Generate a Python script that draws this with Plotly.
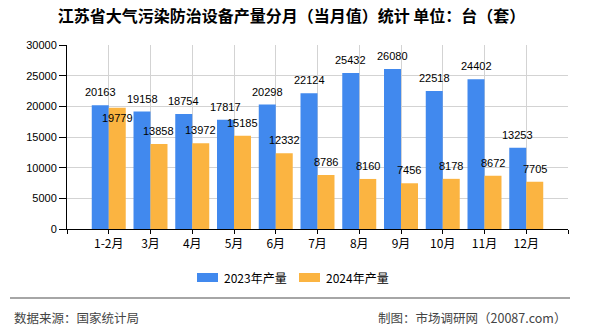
import plotly.graph_objects as go

categories = ["1-2月", "3月", "4月", "5月", "6月", "7月", "8月", "9月", "10月", "11月", "12月"]
values_2023 = [20163, 19158, 18754, 17817, 20298, 22124, 25432, 26080, 22518, 24402, 13253]
values_2024 = [19779, 13858, 13972, 15185, 12332, 8786, 8160, 7456, 8178, 8672, 7705]
series_names = ["2023年产量", "2024年产量"]
y_ticks = [0, 5000, 10000, 15000, 20000, 25000, 30000]

title_text = "江苏省大气污染防治设备产量分月（当月值）统计 单位：台（套）"
source_text = "数据来源：国家统计局"
credit_text = "制图：市场调研网（20087.com）"

W, H = 590, 330
ML, MR, MT, MB = 67, 22, 45, 101
PW, PH = W - ML - MR, H - MT - MB

def px_x(px):
    return (px - ML) / PW

def px_y(py):
    return (H - MB - py) / PH

BLUE = "#4189EE"
ORANGE = "#FBB441"
NUM_FONT = dict(family="Liberation Sans, Arial, sans-serif", size=11, color="#000")
CJK = "Noto Sans CJK SC, sans-serif"

idx = list(range(len(categories)))
fig = go.Figure()
fig.add_bar(x=idx, y=values_2023, name=series_names[0], marker=dict(color=BLUE, line=dict(width=0)))
fig.add_bar(x=idx, y=values_2024, name=series_names[1], marker=dict(color=ORANGE, line=dict(width=0)))

# value labels
bar_half = PW / 12 * (1 - 0.186) / 4
label_dy = {(1, 0): -10}
for s, vals in enumerate([values_2023, values_2024]):
    for i, v in enumerate(vals):
        fig.add_annotation(x=i, y=v, text=str(v), showarrow=False,
                           xshift=(-bar_half if s == 0 else bar_half),
                           yshift=label_dy.get((s, i), 13), yanchor="middle",
                           font=NUM_FONT)

fig.update_layout(
    width=W, height=H,
    margin=dict(l=ML, r=MR, t=MT, b=MB),
    paper_bgcolor="white", plot_bgcolor="white",
    barmode="group", bargap=0.186, bargroupgap=0,
    title=dict(text=title_text, x=0.494, xanchor="center", xref="container",
               y=1 - 16 / H, yanchor="middle", yref="container",
               font=dict(family=CJK, size=16, color="#000", weight="bold")),
    showlegend=False,
    xaxis=dict(range=[-1, len(categories)], tickmode="array",
               tickvals=[-1] + idx + [len(categories)],
               ticktext=[""] + categories + [""],
               showgrid=True, gridcolor="#d3d3d3", gridwidth=1,
               showline=True, linecolor="#000", linewidth=1,
               ticks="outside", ticklen=4, tickcolor="#000",
               tickfont=dict(family=CJK, size=12, color="#000"), zeroline=False),
    yaxis=dict(range=[0, 30000], tickmode="array", tickvals=y_ticks,
               ticktext=[str(t) for t in y_ticks],
               showgrid=True, gridcolor="#d3d3d3", gridwidth=1,
               showline=True, linecolor="#000", linewidth=1,
               ticks="outside", ticklen=7, tickcolor="#000",
               tickfont=NUM_FONT, zeroline=False),
)

# custom legend
legend_items = [(series_names[0], BLUE, 197), (series_names[1], ORANGE, 299)]
for name, color, x0 in legend_items:
    fig.add_shape(type="rect", xref="paper", yref="paper",
                  x0=px_x(x0), x1=px_x(x0 + 21), y0=px_y(282), y1=px_y(273),
                  fillcolor=color, line=dict(width=0))
    fig.add_annotation(xref="paper", yref="paper", x=px_x(x0 + 25), y=px_y(277.5),
                       xanchor="left", yanchor="middle", text=name, showarrow=False,
                       font=dict(family=CJK, size=12, color="#000"))

# separator line and footer
fig.add_shape(type="line", xref="paper", yref="paper",
              x0=px_x(10), x1=px_x(570), y0=px_y(298), y1=px_y(298),
              line=dict(color="#888", width=1.5))
fig.add_annotation(xref="paper", yref="paper", x=px_x(12), y=px_y(317), xanchor="left", yanchor="middle",
                   text=source_text, showarrow=False, font=dict(family=CJK, size=12.5, color="#444"))
fig.add_annotation(xref="paper", yref="paper", x=px_x(568), y=px_y(317), xanchor="right", yanchor="middle",
                   text=credit_text, showarrow=False, font=dict(family=CJK, size=12.5, color="#444"))

fig.write_html("out.html")
